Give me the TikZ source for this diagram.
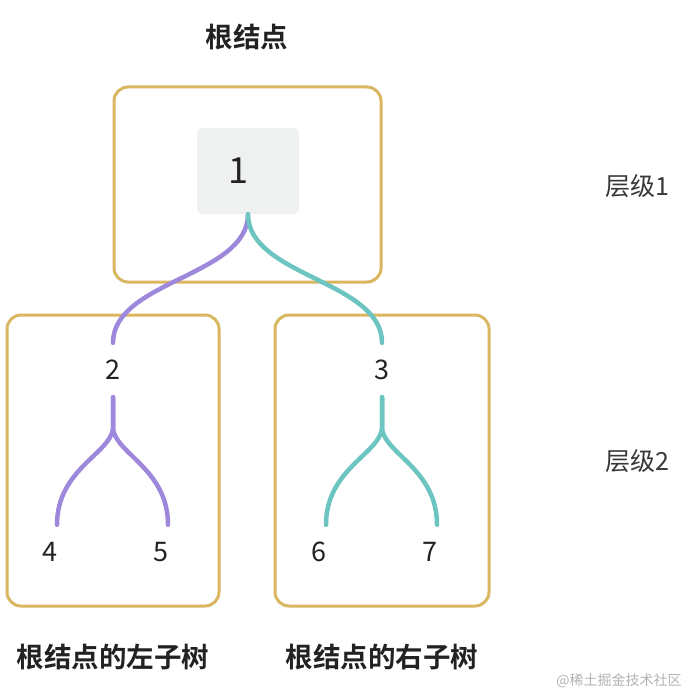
\documentclass[tikz,border=0pt]{standalone}
\usepackage{fontspec}
\setmainfont{Noto Sans CJK SC}[BoldFont={Noto Sans CJK SC Bold}]
\usepackage{tikz}
\usetikzlibrary{positioning}
\definecolor{boxgold}{HTML}{D9B660}
\definecolor{leftpurple}{HTML}{9E88DC}
\definecolor{rightteal}{HTML}{6CC5C0}
\definecolor{rootgray}{HTML}{EFF1F1}
\definecolor{txt}{HTML}{222222}

\begin{document}
\begin{tikzpicture}[x=1pt, y=-1pt,
  frame/.style={draw=boxgold, line width=3pt, rounded corners=14pt},
  num/.style={text=txt, font=\fontsize{27}{27}\selectfont, minimum height=54pt, inner sep=0pt},
  title/.style={text=txt, font=\fontsize{27.5}{27.5}\selectfont\bfseries},
  level/.style={text=txt!90, font=\fontsize{25}{25}\selectfont},
  branch/.style={line width=4.5pt, line cap=round}]
  \useasboundingbox (0,0) rectangle (690,695);

  % Frames
  \draw[frame] (114,87) rectangle (381,282);
  \draw[frame] (7,315) rectangle (219,606);
  \draw[frame] (275,315) rectangle (489,606);

  % Nodes
  \node[fill=rootgray, rounded corners=6pt, minimum width=102pt, minimum height=86pt,
    label={[text=txt, font=\fontsize{36}{36}\selectfont, xshift=-10pt]center:1}] (n1) at (248,171) {};
  \node[num] (n2) at (113,370) {2};
  \node[num] (n3) at (382,370) {3};
  \node[num] (n4) at (50,552) {4};
  \node[num] (n5) at (161,552) {5};
  \node[num] (n6) at (319,552) {6};
  \node[num] (n7) at (430,552) {7};

  % Labels
  \node[title] (root) at (247,37) {根结点};
  \node[title] (lsub) at (113,657) {根结点的左子树};
  \node[title] (rsub) at (382,657) {根结点的右子树};
  \node[level] (lv1) at (637,186) {层级1};
  \node[level] (lv2) at (637,461) {层级2};
  \node[text=black!30, font=\fontsize{14}{14}\selectfont] (mark) at (619,681) {@稀土掘金技术社区};

  % Paths / Edges
  \draw[branch, leftpurple] (n1.south) .. controls +(0,62) and +(0,-62) .. (n2.north);
  \draw[branch, rightteal] (n1.south) .. controls +(0,62) and +(0,-62) .. (n3.north);
  \draw[branch, leftpurple] (n2.south) -- +(0,32) .. controls +(-4,25) and +(0,-55) .. ([xshift=7pt]n4.north);
  \draw[branch, leftpurple] (n2.south) -- +(0,32) .. controls +(4,25) and +(0,-55) .. ([xshift=7pt]n5.north);
  \draw[branch, rightteal] (n3.south) -- +(0,32) .. controls +(-4,25) and +(0,-55) .. ([xshift=7pt]n6.north);
  \draw[branch, rightteal] (n3.south) -- +(0,32) .. controls +(4,25) and +(0,-55) .. ([xshift=7pt]n7.north);

\end{tikzpicture}
\end{document}
